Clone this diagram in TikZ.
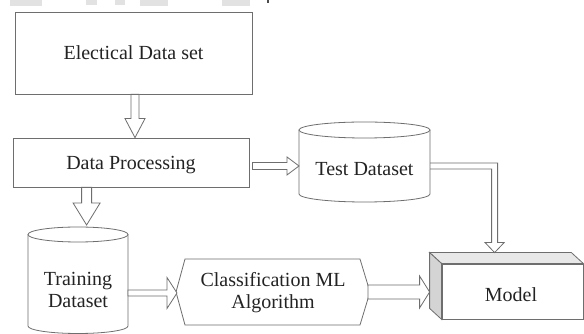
\documentclass[tikz,border=0pt]{standalone}
\usepackage{fontspec}
\setmainfont{Liberation Serif}
\usetikzlibrary{calc}
\definecolor{ln}{RGB}{110,110,110}
\definecolor{tx}{RGB}{35,35,35}
\definecolor{strip}{RGB}{226,226,226}
\definecolor{sidefill}{RGB}{212,212,212}
\definecolor{topfill}{RGB}{232,232,232}
% horizontal hollow arrow: from, to, shaft half, head half, head length
\newcommand\harr[5]{\draw[blk] let \p1=(#1), \p2=(#2) in
  (\x1,\y1+#3) -- (\x2-#5,\y1+#3) -- (\x2-#5,\y1+#4) -- (\x2,\y1) --
  (\x2-#5,\y1-#4) -- (\x2-#5,\y1-#3) -- (\x1,\y1-#3) -- cycle;}
% vertical (downward) hollow arrow
\newcommand\varr[5]{\draw[blk] let \p1=(#1), \p2=(#2) in
  (\x1-#3,\y1) -- (\x1-#3,\y2+#5) -- (\x1-#4,\y2+#5) -- (\x1,\y2) --
  (\x1+#4,\y2+#5) -- (\x1+#3,\y2+#5) -- (\x1+#3,\y1) -- cycle;}
\begin{document}
\begin{tikzpicture}[x=1pt,y=1pt,
  lbl/.style={text=tx, font=\fontsize{20}{22}\selectfont, align=center, inner sep=0pt},
  shp/.style={draw=ln, line width=0.8pt, fill=white},
  blk/.style={draw=ln, line width=0.8pt, fill=white, line join=miter}]
\useasboundingbox (0,0) rectangle (584,334);
\fill[white] (0,0) rectangle (584,334);
% faint strips cut off at the top edge
\fill[strip] (10,328) rectangle (42,334);
\fill[strip] (86,329) rectangle (97,334);
\fill[strip] (115,329) rectangle (125,334);
\fill[strip] (140,328) rectangle (168,334);
\fill[strip] (222,328) rectangle (250,334);
\fill[black!70] (267,331) rectangle (269,334);

% boxes
\node[shp, lbl, minimum width=237pt, minimum height=82pt] (elec) at (133.5,281) {Electical Data set};
\node[shp, lbl, text depth=0pt, minimum width=236pt, minimum height=49pt] (dp) at (131,171.5) {Data Processing};

% test dataset cylinder
\draw[shp] (299,204) -- (299,140) arc[start angle=180, end angle=360, x radius=65.5, y radius=8] -- (430,204);
\draw[shp] (364.5,204) ellipse[x radius=65.5, y radius=8];
\node[lbl] (test) at (364.5,164.5) {Test Dataset};
\coordinate (testW) at (299,168);
\coordinate (testE) at (430,168);

% training dataset cylinder
\draw[shp] (28,99.5) -- (28,8) arc[start angle=180, end angle=360, x radius=50, y radius=7.5] -- (128,99.5);
\draw[shp] (78,99.5) ellipse[x radius=50, y radius=7.5];
\node[lbl] (train) at (78,44) {Training\\Dataset};
\coordinate (trainT) at (87,109);
\coordinate (trainE) at (128,41);

% classification hexagon
\draw[shp, line join=miter] (176,42) -- (185,75) -- (360,75) -- (370,42) -- (360,9) -- (185,9) -- cycle;
\node[lbl] (cls) at (273,41.7) {Classification ML\\Algorithm};
\coordinate (clsW) at (177,41);
\coordinate (clsE) at (368,42);

% model box
\node[shp, minimum width=141pt, minimum height=55pt, inner sep=0pt] (model) at (512.5,42.5) {};
\draw[draw=ln, line width=0.8pt, fill=topfill, line join=miter] (model.north west) -- ++(-12,11) -- ($(model.north east)+(-12,11)$) -- (model.north east) -- cycle;
\draw[draw=ln, line width=0.8pt, fill=sidefill, line join=miter] (model.north west) -- ++(-12,11) -- ($(model.south west)+(-12,11)$) -- (model.south west) -- cycle;
\node[lbl] (modeltxt) at (511,39.5) {Model};
\coordinate (mtop) at ($(model.north west)+(53,11)$);
\coordinate (mleft) at ($(model.west)+(-12,0)$);

% hollow arrows
\varr{$(elec.south)+(1.5,0)$}{$(dp.north)+(1.5,0)$}{4pt}{10pt}{19pt}
\harr{$(dp.east)+(3,-3.5)$}{testW}{3.5pt}{9pt}{12pt}
\varr{$(dp.south west)+(74,0)$}{trainT}{5pt}{13.5pt}{22pt}
\harr{trainE}{clsW}{3pt}{15.5pt}{10pt}
\harr{clsE}{mleft}{7pt}{16pt}{10pt}
% elbow arrow from test dataset to model
\draw[blk, fill=none] let \p1=(testE), \p2=(mtop) in
  (\x1,\y1+3pt) -- (\x2+3pt,\y1+3pt) -- (\x2+3pt,\y2+10pt) -- (\x2+9.5pt,\y2+10pt) --
  (\x2,\y2) -- (\x2-9.5pt,\y2+10pt) -- (\x2-3pt,\y2+10pt) -- (\x2-3pt,\y1-3pt) -- (\x1,\y1-3pt);
\end{tikzpicture}
\end{document}
